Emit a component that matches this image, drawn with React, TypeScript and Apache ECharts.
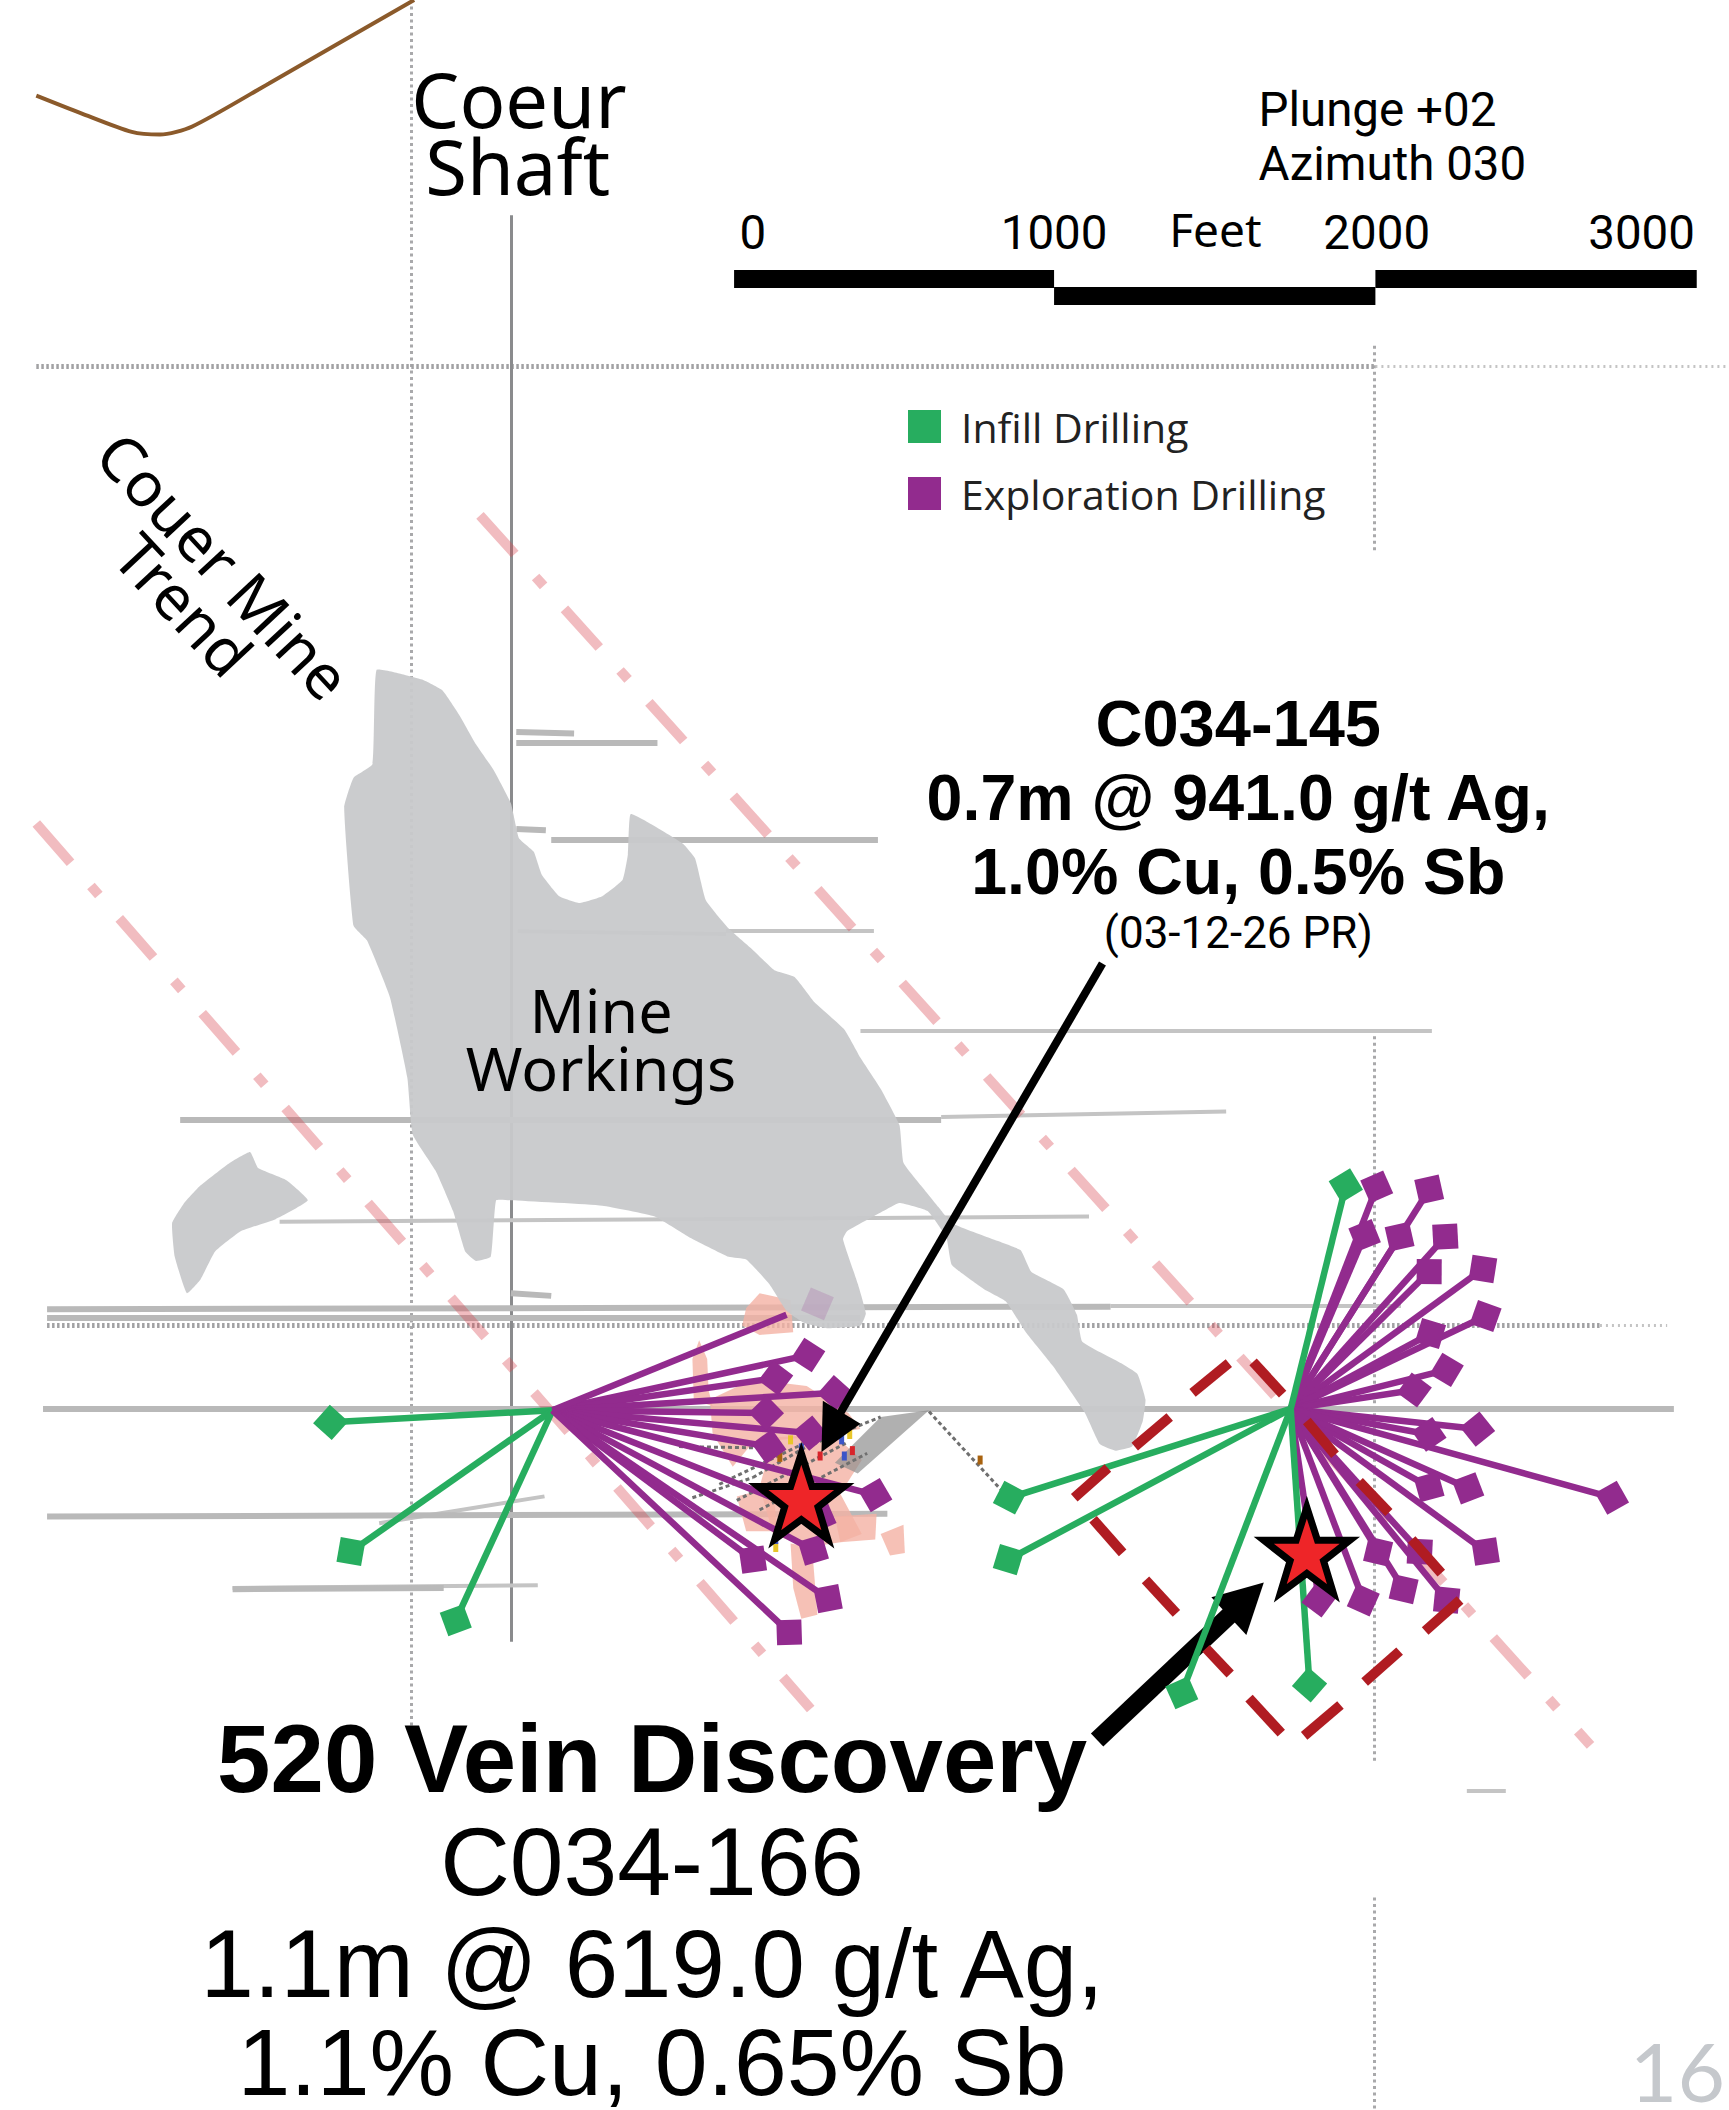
import React, { useEffect, useRef } from "react";
import * as echarts from "echarts";

type P = [number, number];
type Seg = [P, P];

const W = 1729, H = 2110, DX = 1286, DY = 1568;
const sx = W / DX, sy = H / DY;

const brownTrace: P[] = [[27, 71], [60, 84], [98, 98], [119, 100], [143, 94], [200, 62], [308, 0]];
const dottedH: Seg[] = [[[27, 272], [1023, 272]], [[35, 985], [1190, 985]]];
const dottedHFaint: Seg[] = [[[1023, 272], [1286, 272]], [[1190, 985], [1240, 985]]];
const dottedV: Seg[] = [[[306, 0], [306, 1290]], [[1022, 257], [1022, 411]], [[1022, 770], [1022, 1310]], [[1022, 1410], [1022, 1568]]];
const shaft: Seg[] = [[[380, 160], [380, 1220]]];

const streaksThin: Seg[] = [
  [[640, 766], [1065, 766]], [[700, 830], [912, 826]], [[208, 908], [810, 904]],
  [[826, 970], [1042, 970]], [[173, 1180], [400, 1178]], [[1091, 1331], [1120, 1331]],
  [[540, 692], [650, 692]], [[385, 692], [540, 694]], [[282, 1132], [405, 1112]],
];
const streaksThick: Seg[] = [
  [[384, 544], [427, 545]], [[384, 552], [489, 552]], [[384, 616], [406, 617]], [[410, 624], [653, 624]],
  [[134, 832], [700, 832]], [[35, 973], [826, 971]], [[35, 979], [640, 979]], [[380, 961], [410, 963]],
  [[32, 1047], [1245, 1047]], [[35, 1127], [660, 1125]], [[173, 1181], [330, 1180]],
];

const workings: P[] = [
  [280, 498], [299, 501], [314, 505], [329, 513], [342, 532], [354, 553], [367, 572], [380, 597], [386, 623], [397, 633],
  [403, 650], [416, 666], [431, 671], [448, 666], [463, 654], [467, 635], [469, 605], [487, 614], [508, 627], [517, 638],
  [525, 669], [542, 690], [559, 705], [576, 721], [591, 726], [606, 745], [628, 765], [640, 786], [655, 809], [669, 836],
  [672, 864], [685, 881], [698, 897], [708, 909], [736, 920], [759, 929], [767, 945], [791, 958], [801, 977], [805, 997],
  [834, 1013], [846, 1021], [852, 1040], [850, 1056], [842, 1075], [830, 1078], [818, 1073], [807, 1050], [783, 1015],
  [763, 990], [748, 967], [732, 958], [708, 940], [704, 920], [690, 900], [669, 894], [657, 900], [630, 915], [627, 921],
  [638, 954], [644, 976], [640, 985], [615, 987], [598, 983], [585, 974], [572, 954], [555, 936], [542, 934], [512, 919],
  [487, 904], [448, 896], [380, 892], [369, 892], [365, 934], [354, 937], [346, 930], [337, 900], [324, 870], [307, 843],
  [303, 801], [290, 741], [273, 699], [263, 688], [256, 600], [263, 578], [277, 568],
];
const workingsIsland: P[] = [
  [186, 856], [192, 868], [213, 877], [229, 892], [205, 906], [179, 915], [160, 930], [149, 951], [139, 961], [130, 934],
  [128, 909], [137, 894], [149, 881], [171, 864],
];
const orebody: P[][] = [
  [[515, 1010], [520, 996], [526, 1010], [527, 1033], [530, 1045], [516, 1040]],
  [[555, 972], [565, 961], [588, 966], [590, 990], [565, 992], [552, 985]],
  [[528, 1040], [560, 1025], [600, 1030], [631, 1050], [640, 1062], [600, 1068], [560, 1072], [545, 1090], [530, 1065]],
  [[575, 1068], [620, 1066], [641, 1085], [625, 1110], [641, 1140], [625, 1146], [600, 1150], [575, 1140], [565, 1105]],
  [[548, 1112], [575, 1105], [578, 1138], [555, 1138]],
  [[588, 1147], [604, 1150], [608, 1200], [596, 1203], [590, 1180]],
  [[655, 1140], [672, 1133], [673, 1154], [662, 1156]],
  [[621, 1127], [652, 1125], [651, 1144], [625, 1146]],
];
const meshShade: P[] = [[691, 1048], [655, 1053], [621, 1087], [638, 1095]];
const mesh: Seg[] = [
  [[515, 1113], [560, 1098]], [[560, 1098], [600, 1075]], [[600, 1075], [655, 1053]],
  [[535, 1103], [620, 1062]], [[548, 1115], [630, 1072]], [[565, 1122], [645, 1080]], [[505, 1075], [568, 1076]],
  [[691, 1049], [750, 1113]],
];
const specksYellow: P[] = [[588, 1070], [632, 1066], [577, 1150]];
const specksBlue: P[] = [[628, 1082], [626, 1070], [577, 1144], [596, 1076]];
const specksRed: P[] = [[634, 1078], [610, 1082]];
const specksBrown: P[] = [[729, 1085], [580, 1083]];

const trendA: P[] = [[357, 383], [1183, 1297]];
const trendB: P[] = [[27, 612], [603, 1270]];

const stopeDashes: Seg[] = [
  [[887, 1035], [914, 1013]], [[932, 1012], [954, 1036]], [[844, 1075], [870, 1053]], [[799, 1113], [824, 1091]],
  [[813, 1129], [835, 1154]], [[852, 1174], [875, 1199]], [[897, 1225], [915, 1244]], [[929, 1262], [953, 1288]],
  [[970, 1290], [997, 1267]], [[1015, 1250], [1041, 1227]], [[1060, 1212], [1086, 1189]], [[1050, 1144], [1072, 1169]],
  [[1011, 1101], [1033, 1124]], [[972, 1056], [993, 1081]],
];

const collarLeft: P = [411, 1048];
const collarRight: P = [960, 1047];
const infillLeft: P[] = [[246, 1057], [261, 1153], [339, 1204]];
const exploreLeft: P[] = [[601, 1007], [577, 1024], [621, 1035], [570, 1050], [603, 1065], [572, 1075], [651, 1111], [610, 1127], [605, 1152], [560, 1159], [616, 1188], [587, 1213]];
const exploreLeftHidden: P[] = [[585, 977]];
const exploreLeftFaded: P[] = [[608, 969]];
const infillRight: P[] = [[1001, 881], [751, 1113], [750, 1159], [879, 1258], [974, 1252]];
const exploreRight: P[] = [
  [1024, 882], [1063, 884], [1015, 918], [1041, 919], [1075, 919], [1063, 945], [1103, 943], [1105, 978], [1064, 991],
  [1076, 1018], [1052, 1033], [1099, 1062], [1063, 1066], [1063, 1105], [1092, 1106], [1199, 1113], [1105, 1153],
  [1025, 1153], [1056, 1153], [1044, 1181], [1014, 1189], [1076, 1189], [981, 1189],
];
const discoveries: P[] = [[596, 1112], [972, 1152]];
const scaleUpper: Seg[] = [[[546, 207.5], [784, 207.5]], [[1023, 207.5], [1262, 207.5]]];
const scaleLower: Seg[] = [[[784, 219.5], [1023, 219.5]]];
const arrowThin: Seg[] = [[[820, 716], [625, 1050]]];
const arrowThick: Seg[] = [[[816, 1293], [918, 1197]]];
const arrowHeads: P[][] = [
  [[611, 1079], [612, 1041], [640, 1058]],
  [[940, 1176], [901, 1187], [927, 1215]],
];

const GREEN = "#27ad5f", PURPLE = "#922b8e", GREY = "#b9b9b9";
const STAR = "path://M50 0 L61.8 35.1 L97.6 35.1 L68.5 56.8 L79.4 91 L50 70 L20.6 91 L31.5 56.8 L2.4 35.1 L38.2 35.1 Z";

const segs = (data: Seg[], lineStyle: any, z: number) => ({
  type: "lines", coordinateSystem: "cartesian2d", silent: true, z, polyline: false,
  data: data.map((coords) => ({ coords })),
  lineStyle: { opacity: 1, curveness: 0, ...lineStyle },
});
const fan = (c: P, ends: P[]): Seg[] => ends.map((e) => [c, e]);
const polys = (list: P[][], style: any, z: number, smooth = 0) => ({
  type: "custom", coordinateSystem: "cartesian2d", silent: true, z, clip: false,
  data: list.map((p) => p[0]),
  renderItem: (params: any, api: any) => ({
    type: "polygon",
    shape: { points: list[params.dataIndex].map((p) => api.coord(p)), smooth },
    style,
  }),
});
const markers = (name: string, c: P, ends: P[], color: string, z: number, opacity = 1) => ({
  type: "scatter", name, data: ends, symbol: "rect", symbolSize: 25, z, silent: true,
  symbolRotate: (v: P) => 45 - (Math.atan2(v[1] - c[1], v[0] - c[0]) * 180) / Math.PI,
  itemStyle: { color, opacity },
});
const specks = (data: P[], color: string) => ({
  type: "scatter", data, symbol: "rect", symbolSize: [5, 9], z: 7, silent: true, itemStyle: { color, opacity: 1 },
});

type T = [string, number, number, string, number, string?, string?, number?];
const texts: T[] = [
  ["Coeur", 386, 73, "76px 'Noto Sans'", 64],
  ["Shaft", 385, 123, "76px 'Noto Sans'", 64],
  ["Plunge +02", 936, 82, "47.5px Roboto", 47, "left"],
  ["Azimuth 030", 936, 122, "47.5px Roboto", 47, "left"],
  ["0", 560, 173, "47.5px Roboto", 47],
  ["1000", 784, 173, "47.5px Roboto", 47],
  ["Feet", 904, 170, "46px 'Noto Sans'", 46],
  ["2000", 1024, 173, "47.5px Roboto", 47],
  ["3000", 1221, 173, "47.5px Roboto", 47],
  ["C034-145", 921, 538, "bold 65px 'Liberation Sans'", 65],
  ["0.7m @ 941.0 g/t Ag,", 921, 593, "bold 64.5px 'Liberation Sans'", 65],
  ["1.0% Cu, 0.5% Sb", 921, 648, "bold 64.5px 'Liberation Sans'", 65],
  ["(03-12-26 PR)", 921, 693, "44px Roboto", 43],
  ["Mine", 447, 750, "61px 'Noto Sans'", 58],
  ["Workings", 447, 793, "61px 'Noto Sans'", 58],
  ["520 Vein Discovery", 485, 1307, "bold 96px 'Liberation Sans'", 92],
  ["C034-166", 485, 1383, "96.5px 'Liberation Sans'", 92],
  ["1.1m @ 619.0 g/t Ag,", 485, 1459, "96px 'Liberation Sans'", 92],
  ["1.1% Cu, 0.65% Sb", 485, 1532, "95px 'Liberation Sans'", 70],
  ["16", 1283, 1538, "400 82px Lato", 50, "right", "#c5c8cc"],
  ["Couer Mine", 167, 420, "62px 'Noto Sans'", 50, "center", "#000", -0.82],
  ["Trend", 137, 449, "62px 'Noto Sans'", 50, "center", "#000", -0.82],
];

export default function App() {
  const ref = useRef<HTMLDivElement>(null);
  useEffect(() => {
    document.body.style.margin = "0";
    const chart = echarts.init(ref.current!, undefined, { renderer: "svg" });
    chart.setOption({
      animation: false,
      backgroundColor: "#ffffff",
      tooltip: { show: false },
      grid: { left: 0, top: 0, right: 0, bottom: 0 },
      xAxis: { type: "value", min: 0, max: DX, show: false },
      yAxis: { type: "value", min: 0, max: DY, inverse: true, show: false },
      legend: {
        orient: "vertical", left: 908, top: 406, padding: 0, itemWidth: 33, itemHeight: 33, itemGap: 26, icon: "rect",
        selectedMode: false,
        textStyle: { fontFamily: "'Open Sans'", fontSize: 41, color: "#222", padding: [0, 0, 0, 15] },
        data: [
          { name: "Infill Drilling", itemStyle: { color: GREEN } },
          { name: "Exploration Drilling", itemStyle: { color: PURPLE } },
        ],
      },
      series: [
        segs(dottedV, { color: "#a9a9ab", width: 3, type: [3, 3.5] }, 1),
        segs(dottedH, { color: "#a2a2a4", width: 5, type: [2.5, 2.5] }, 1),
        segs(dottedHFaint, { color: "#c4c4c4", width: 3, type: [2, 4] }, 1),
        segs(shaft, { color: "#8a8b8d", width: 3 }, 2),
        segs(streaksThin, { color: "#c4c4c4", width: 4 }, 2),
        segs(streaksThick, { color: GREY, width: 6 }, 2),
        { type: "line", data: brownTrace, smooth: 0.25, showSymbol: false, silent: true, clip: true, z: 2, lineStyle: { color: "#8b5a2b", width: 4 } },
        polys(orebody, { fill: "#f4b1a4", opacity: 0.8 }, 3),
        polys([meshShade], { fill: "#8f8f8f", opacity: 0.7 }, 3),
        segs(mesh, { color: "#6f6f6f", width: 3, type: [4, 3] }, 3),
        specks(specksYellow, "#e8c62a"), specks(specksBlue, "#3b55c8"), specks(specksRed, "#d8242a"), specks(specksBrown, "#a8620f"),
        polys([workings, workingsIsland], { fill: "#c8c9cb", opacity: 0.95 }, 4, 0.12),
        { type: "line", data: trendA, showSymbol: false, silent: true, z: 5, lineStyle: { color: "#d9454f", opacity: 0.36, width: 10, type: [52, 31, 12, 31] } },
        { type: "line", data: trendB, showSymbol: false, silent: true, z: 5, lineStyle: { color: "#d9454f", opacity: 0.36, width: 10, type: [52, 31, 12, 31] } },
        segs(arrowThick, { color: "#000", width: 18 }, 6),
        polys([arrowHeads[1]], { fill: "#000" }, 6),
        markers("Infill Drilling", collarLeft, infillLeft, GREEN, 8),
        markers("Exploration Drilling", collarLeft, exploreLeft, PURPLE, 8),
        markers("Infill Drilling", collarRight, infillRight, GREEN, 8),
        markers("Exploration Drilling", collarRight, exploreRight, PURPLE, 8),
        markers("Exploration Drilling", collarLeft, exploreLeftFaded, PURPLE, 8, 0.18),
        segs(fan(collarLeft, infillLeft), { color: GREEN, width: 6.5 }, 8),
        segs(fan(collarLeft, [...exploreLeft, ...exploreLeftHidden]), { color: PURPLE, width: 6.5 }, 8),
        segs(fan(collarRight, exploreRight), { color: PURPLE, width: 6.5 }, 8),
        segs(fan(collarRight, infillRight), { color: GREEN, width: 6.5 }, 8),
        segs(stopeDashes, { color: "#b01c22", width: 10 }, 9),
        segs(arrowThin, { color: "#000", width: 8 }, 10),
        polys([arrowHeads[0]], { fill: "#000" }, 10),
        {
          type: "scatter", data: discoveries, symbol: STAR, symbolSize: 86, z: 11, silent: true,
          itemStyle: { color: "#ee2528", opacity: 1, borderColor: "#000", borderWidth: 7, borderMiterLimit: 10 },
        },
        segs(scaleUpper, { color: "#000", width: 18 }, 11),
        segs(scaleLower, { color: "#000", width: 18 }, 11),
      ],
      graphic: texts.map(([text, x, y, font, lineHeight, align, color, rot]) => ({
        type: "text", x: x * sx, y: y * sy, rotation: rot ?? 0, z: 20, silent: true,
        style: { text, font, lineHeight, fill: color ?? "#000", textAlign: align ?? "center", textVerticalAlign: "middle" },
      })),
    });
    return () => chart.dispose();
  }, []);
  return <div ref={ref} style={{ width: W, height: H }} />;
}
